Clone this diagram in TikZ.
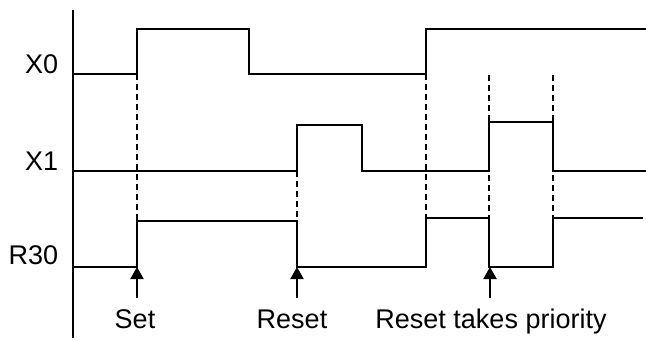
\documentclass[tikz,border=0pt]{standalone}
\usepackage{fontspec}
\setmainfont{Liberation Sans}
\usetikzlibrary{arrows.meta}
\begin{document}
\begin{tikzpicture}[x=0.5pt,y=-0.5pt,
  wave/.style={line width=1pt, line join=miter},
  guide/.style={line width=0.65pt, dash pattern=on 3pt off 2pt},
  trig/.style={line width=1pt, -{Triangle[width=6.5pt,length=6pt]}},
  lbl/.style={font=\fontsize{13.5}{16}\selectfont, inner sep=0pt},
]
\useasboundingbox (0,0) rectangle (646,341);
% axis
\coordinate (axt) at (73,10);
\coordinate (axb) at (73,338);
\draw[wave] (axt) -- (axb);
% signal labels
\node[lbl, anchor=base east] (lx0) at (58.5,74) {X0};
\node[lbl, anchor=base east] (lx1) at (58.5,171) {X1};
\node[lbl, anchor=base east] (lr30) at (58.5,264) {R30};
% waveforms
\draw[wave] (73,74) -- (137,74) -- (137,29) -- (249,29) -- (249,74) -- (426,74) -- (426,29) -- (646,29);
\draw[wave] (73,171) -- (297,171) -- (297,125) -- (362,125) -- (362,171) -- (489,171) -- (489,122) -- (553,122) -- (553,171) -- (646,171);
\draw[wave] (72,267) -- (137,267) -- (137,221) -- (297,221) -- (297,267) -- (426,267) -- (426,218) -- (489,218) -- (489,267) -- (553,267) -- (553,218) -- (643,218);
% guides
\coordinate (g1a) at (137,74);  \coordinate (g1b) at (137,221);
\coordinate (g2a) at (297,171); \coordinate (g2b) at (297,221);
\coordinate (g3a) at (426,74);  \coordinate (g3b) at (426,218);
\coordinate (g4a) at (489,75);  \coordinate (g4b) at (489,218);
\coordinate (g5a) at (553,75);  \coordinate (g5b) at (553,218);
\draw[guide] (g1a) -- (g1b);
\draw[guide] (g2a) -- (g2b);
\draw[guide] (g3a) -- (g3b);
\draw[guide] (g4a) -- (g4b);
\draw[guide] (g5a) -- (g5b);
% trigger arrows
\coordinate (a1s) at (137,298); \coordinate (a1e) at (137,267);
\coordinate (a2s) at (297,298); \coordinate (a2e) at (297,267);
\coordinate (a3s) at (490,298); \coordinate (a3e) at (490,267);
\draw[trig] (a1s) -- (a1e);
\draw[trig] (a2s) -- (a2e);
\draw[trig] (a3s) -- (a3e);
% event labels
\node[lbl, anchor=base] (lset) at (135,328) {Set};
\node[lbl, anchor=base] (lreset) at (292,328) {Reset};
\node[lbl, anchor=base] (lprio) at (491,328) {Reset takes priority};
\end{tikzpicture}
\end{document}
